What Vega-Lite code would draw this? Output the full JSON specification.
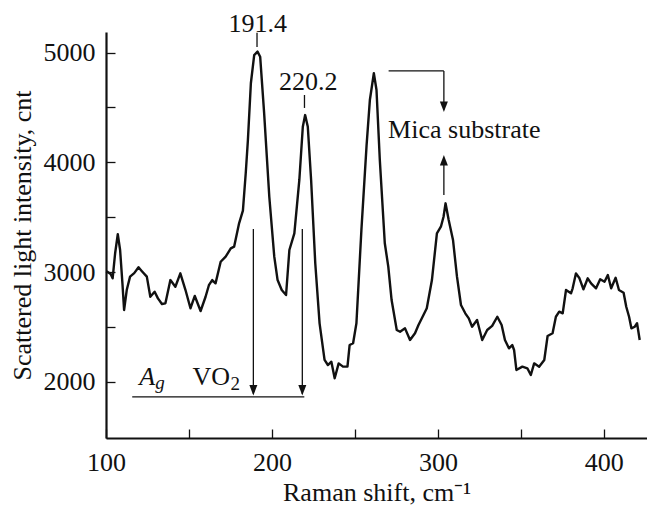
{
  "$schema": "https://vega.github.io/schema/vega-lite/v6.json",
  "width": 541,
  "height": 406,
  "autosize": {"type": "none"},
  "padding": {"left": 106, "top": 32, "right": 0, "bottom": 71},
  "background": "white",
  "config": {
    "view": {"stroke": null},
    "axis": {
      "grid": false,
      "domainColor": "#111",
      "domainWidth": 2.2,
      "tickColor": "#111",
      "tickWidth": 1.3,
      "tickSize": -9,
      "labelFlush": false,
      "labelFont": "Liberation Serif",
      "labelFontSize": 26,
      "labelColor": "#111",
      "titleFont": "Liberation Serif",
      "titleFontSize": 26,
      "titleFontWeight": "normal",
      "titleColor": "#111"
    },
    "text": {"font": "Liberation Serif", "fontSize": 26, "color": "#111"}
  },
  "datasets": {
    "curve": [
      {"x": 100.0, "y": 3005}, {"x": 100.8, "y": 3003}, {"x": 102.8, "y": 2982}, {"x": 104.0, "y": 2943},
      {"x": 105.5, "y": 3171}, {"x": 107.1, "y": 3344}, {"x": 108.5, "y": 3201}, {"x": 109.9, "y": 2897},
      {"x": 110.9, "y": 2654}, {"x": 112.5, "y": 2836}, {"x": 114.5, "y": 2958}, {"x": 117.0, "y": 2990},
      {"x": 119.6, "y": 3043}, {"x": 121.5, "y": 3010}, {"x": 124.6, "y": 2958}, {"x": 126.7, "y": 2775},
      {"x": 129.3, "y": 2821}, {"x": 131.3, "y": 2760}, {"x": 133.7, "y": 2709}, {"x": 135.8, "y": 2715},
      {"x": 138.8, "y": 2927}, {"x": 141.8, "y": 2866}, {"x": 144.8, "y": 2988}, {"x": 147.9, "y": 2836},
      {"x": 150.9, "y": 2670}, {"x": 153.5, "y": 2782}, {"x": 157.0, "y": 2645}, {"x": 160.0, "y": 2775},
      {"x": 162.0, "y": 2880}, {"x": 164.0, "y": 2927}, {"x": 166.0, "y": 2897}, {"x": 169.1, "y": 3094},
      {"x": 172.1, "y": 3140}, {"x": 175.2, "y": 3216}, {"x": 177.2, "y": 3231}, {"x": 180.2, "y": 3444},
      {"x": 182.5, "y": 3560}, {"x": 184.2, "y": 3900}, {"x": 185.5, "y": 4199}, {"x": 187.3, "y": 4720},
      {"x": 189.3, "y": 4977}, {"x": 191.3, "y": 5008}, {"x": 192.9, "y": 4962}, {"x": 195.3, "y": 4446},
      {"x": 198.4, "y": 3686}, {"x": 201.4, "y": 3140}, {"x": 203.4, "y": 2927}, {"x": 205.9, "y": 2836},
      {"x": 208.5, "y": 2791}, {"x": 210.5, "y": 3201}, {"x": 213.5, "y": 3353}, {"x": 216.5, "y": 3839},
      {"x": 218.6, "y": 4324}, {"x": 220.0, "y": 4430}, {"x": 221.6, "y": 4324}, {"x": 223.6, "y": 3839},
      {"x": 226.1, "y": 3080}, {"x": 228.7, "y": 2533}, {"x": 231.7, "y": 2199}, {"x": 233.7, "y": 2153},
      {"x": 235.8, "y": 2183}, {"x": 237.8, "y": 2032}, {"x": 240.2, "y": 2168}, {"x": 242.8, "y": 2138},
      {"x": 245.5, "y": 2138}, {"x": 246.8, "y": 2335}, {"x": 248.9, "y": 2351}, {"x": 250.9, "y": 2533},
      {"x": 253.9, "y": 3382}, {"x": 257.0, "y": 4150}, {"x": 259.0, "y": 4567}, {"x": 261.4, "y": 4811},
      {"x": 263.0, "y": 4659}, {"x": 265.0, "y": 4021}, {"x": 268.0, "y": 3262}, {"x": 270.1, "y": 3049},
      {"x": 272.1, "y": 2745}, {"x": 275.2, "y": 2472}, {"x": 277.2, "y": 2456}, {"x": 280.2, "y": 2487},
      {"x": 283.2, "y": 2381}, {"x": 286.2, "y": 2442}, {"x": 288.3, "y": 2518}, {"x": 291.3, "y": 2609},
      {"x": 293.3, "y": 2670}, {"x": 296.4, "y": 2927}, {"x": 299.4, "y": 3353}, {"x": 301.8, "y": 3413},
      {"x": 303.4, "y": 3504}, {"x": 304.6, "y": 3626}, {"x": 306.5, "y": 3474}, {"x": 309.1, "y": 3292},
      {"x": 311.5, "y": 2958}, {"x": 313.9, "y": 2700}, {"x": 316.5, "y": 2624}, {"x": 318.6, "y": 2578},
      {"x": 320.6, "y": 2502}, {"x": 323.6, "y": 2563}, {"x": 326.7, "y": 2381}, {"x": 329.7, "y": 2472},
      {"x": 332.7, "y": 2510}, {"x": 335.8, "y": 2593}, {"x": 338.4, "y": 2518}, {"x": 340.4, "y": 2381},
      {"x": 342.8, "y": 2305}, {"x": 344.8, "y": 2335}, {"x": 345.9, "y": 2290}, {"x": 347.3, "y": 2108},
      {"x": 350.9, "y": 2138}, {"x": 353.9, "y": 2123}, {"x": 356.0, "y": 2062}, {"x": 358.0, "y": 2168},
      {"x": 361.0, "y": 2138}, {"x": 364.1, "y": 2199}, {"x": 366.1, "y": 2417}, {"x": 369.1, "y": 2442},
      {"x": 371.1, "y": 2593}, {"x": 373.1, "y": 2639}, {"x": 375.2, "y": 2624}, {"x": 377.2, "y": 2836},
      {"x": 380.2, "y": 2806}, {"x": 381.2, "y": 2852}, {"x": 383.2, "y": 2988}, {"x": 385.3, "y": 2943},
      {"x": 387.7, "y": 2843}, {"x": 390.3, "y": 2943}, {"x": 392.3, "y": 2897}, {"x": 395.3, "y": 2852},
      {"x": 397.8, "y": 2934}, {"x": 400.4, "y": 2912}, {"x": 402.4, "y": 2973}, {"x": 404.4, "y": 2852},
      {"x": 407.1, "y": 2948}, {"x": 409.1, "y": 2836}, {"x": 411.9, "y": 2812}, {"x": 413.5, "y": 2684},
      {"x": 415.2, "y": 2593}, {"x": 416.6, "y": 2487}, {"x": 418.6, "y": 2502}, {"x": 420.0, "y": 2533},
      {"x": 421.6, "y": 2381}
    ],
    "rules": [
      {"x": 191.0, "y": 5180, "x2": 191.0, "y2": 5050},
      {"x": 219.6, "y": 4613, "x2": 219.6, "y2": 4495},
      {"x": 188.8, "y": 3392, "x2": 188.8, "y2": 1890},
      {"x": 218.3, "y": 3392, "x2": 218.3, "y2": 1890},
      {"x": 115.8, "y": 1862, "x2": 219.5, "y2": 1862},
      {"x": 270.3, "y": 4832, "x2": 303.6, "y2": 4832},
      {"x": 303.6, "y": 4832, "x2": 303.6, "y2": 4480},
      {"x": 303.6, "y": 3702, "x2": 303.6, "y2": 4040}
    ],
    "downTips": [
      {"x": 188.8, "y": 1875},
      {"x": 218.3, "y": 1875},
      {"x": 303.6, "y": 4458}
    ],
    "upTips": [
      {"x": 303.6, "y": 4066}
    ],
    "centerLabels": [
      {"x": 191.4, "y": 5190, "text": "191.4"},
      {"x": 221.8, "y": 4659, "text": "220.2"}
    ],
    "leftLabels": [
      {"x": 270.0, "y": 4221, "text": "Mica substrate"},
      {"x": 152.1, "y": 1971, "text": "VO"}
    ],
    "italicMain": [
      {"x": 120.0, "y": 1971, "text": "A"}
    ],
    "italicSub": [
      {"x": 129.7, "y": 1930, "text": "g"}
    ],
    "sub": [
      {"x": 175.0, "y": 1925, "text": "2"}
    ]
  },
  "layer": [
    {
      "data": {"name": "curve"},
      "mark": {"type": "line", "color": "#111", "strokeWidth": 2.4, "strokeJoin": "round", "clip": false},
      "encoding": {
        "x": {
          "field": "x", "type": "quantitative",
          "scale": {"domain": [100, 426], "nice": false, "zero": false},
          "axis": {
            "title": "Raman shift, cm⁻¹",
            "values": [100, 150, 200, 250, 300, 350, 400],
            "labelExpr": "datum.value % 100 == 0 ? datum.label : ''",
            "labelPadding": 20,
            "titlePadding": 4
          }
        },
        "y": {
          "field": "y", "type": "quantitative",
          "scale": {"domain": [1488, 5187], "nice": false, "zero": false},
          "axis": {
            "title": "Scattered light intensity, cnt",
            "values": [2000, 2500, 3000, 3500, 4000, 4500, 5000],
            "format": "d",
            "labelExpr": "datum.value % 1000 == 0 ? datum.label : ''",
            "labelPadding": 20,
            "titlePadding": 8
          }
        }
      }
    },
    {
      "data": {"name": "rules"},
      "mark": {"type": "rule", "color": "#111", "strokeWidth": 1.3},
      "encoding": {
        "x": {"field": "x", "type": "quantitative"},
        "y": {"field": "y", "type": "quantitative"},
        "x2": {"field": "x2"},
        "y2": {"field": "y2"}
      }
    },
    {
      "data": {"name": "downTips"},
      "mark": {"type": "point", "shape": "M-1,-2.6L1,-2.6L0,0Z", "size": 64, "filled": true, "color": "#111", "opacity": 1},
      "encoding": {
        "x": {"field": "x", "type": "quantitative"},
        "y": {"field": "y", "type": "quantitative"}
      }
    },
    {
      "data": {"name": "upTips"},
      "mark": {"type": "point", "shape": "M-1,2.6L1,2.6L0,0Z", "size": 64, "filled": true, "color": "#111", "opacity": 1},
      "encoding": {
        "x": {"field": "x", "type": "quantitative"},
        "y": {"field": "y", "type": "quantitative"}
      }
    },
    {
      "data": {"name": "centerLabels"},
      "mark": {"type": "text", "baseline": "alphabetic", "align": "center"},
      "encoding": {
        "x": {"field": "x", "type": "quantitative"},
        "y": {"field": "y", "type": "quantitative"},
        "text": {"field": "text"}
      }
    },
    {
      "data": {"name": "leftLabels"},
      "mark": {"type": "text", "baseline": "alphabetic", "align": "left"},
      "encoding": {
        "x": {"field": "x", "type": "quantitative"},
        "y": {"field": "y", "type": "quantitative"},
        "text": {"field": "text"}
      }
    },
    {
      "data": {"name": "italicMain"},
      "mark": {"type": "text", "baseline": "alphabetic", "align": "left", "fontStyle": "italic"},
      "encoding": {
        "x": {"field": "x", "type": "quantitative"},
        "y": {"field": "y", "type": "quantitative"},
        "text": {"field": "text"}
      }
    },
    {
      "data": {"name": "italicSub"},
      "mark": {"type": "text", "baseline": "alphabetic", "align": "left", "fontStyle": "italic", "fontSize": 19},
      "encoding": {
        "x": {"field": "x", "type": "quantitative"},
        "y": {"field": "y", "type": "quantitative"},
        "text": {"field": "text"}
      }
    },
    {
      "data": {"name": "sub"},
      "mark": {"type": "text", "baseline": "alphabetic", "align": "left", "fontSize": 19},
      "encoding": {
        "x": {"field": "x", "type": "quantitative"},
        "y": {"field": "y", "type": "quantitative"},
        "text": {"field": "text"}
      }
    }
  ]
}
